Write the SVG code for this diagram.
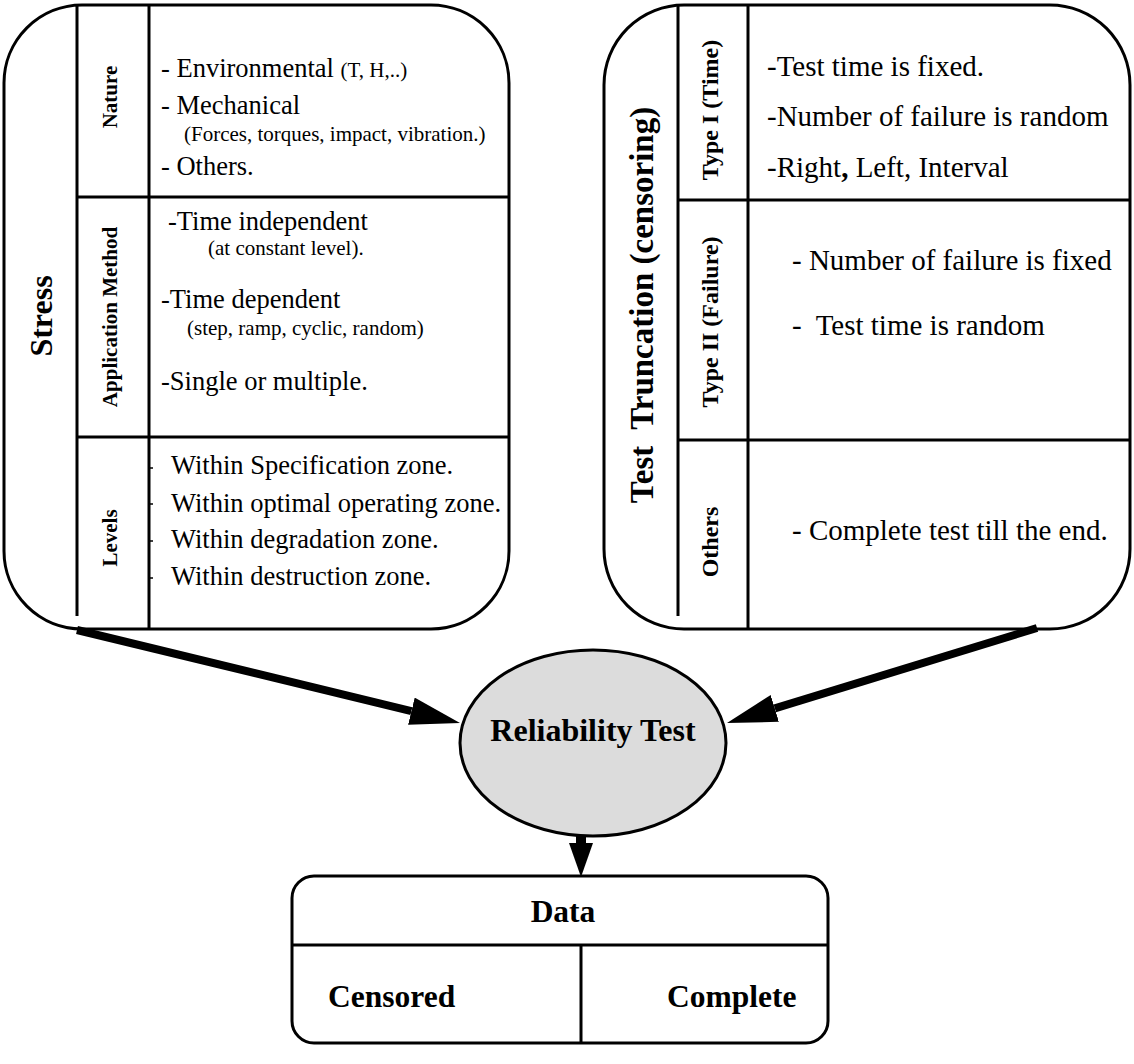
<svg xmlns="http://www.w3.org/2000/svg" width="1134" height="1064" viewBox="0 0 1134 1064">
<style>
text{font-family:"Liberation Serif","Times New Roman",serif;fill:#000;white-space:pre}
.t{font-size:26.5px}
.s{font-size:21px}
.r{font-size:29px}
.lb{font-size:21px;font-weight:bold}
.lb2{font-size:24px;font-weight:bold}
.big{font-size:32px;font-weight:bold}
.b{font-weight:bold;font-size:31.5px}
.box{fill:#fff;stroke:#000;stroke-width:3}
.ln{stroke:#000;stroke-width:3;fill:none}
.tick{stroke:#000;stroke-width:1.5}
.arr{stroke:#000;fill:none}
</style>
<defs>
<marker id="ah" viewBox="0 -14 50 28" refX="0" refY="0" markerWidth="50" markerHeight="28" markerUnits="userSpaceOnUse" orient="auto">
<path d="M0,-14 L50,0 L0,14 Z" fill="#000"/>
</marker>
<marker id="ah2" viewBox="0 -12 34 24" refX="0" refY="0" markerWidth="34" markerHeight="24" markerUnits="userSpaceOnUse" orient="auto">
<path d="M0,-12 L34,0 L0,12 Z" fill="#000"/>
</marker>
</defs>

<g id="stress">
<rect class="box" x="4" y="5" width="505" height="624" rx="78" ry="78"/>
<line class="ln" x1="77" y1="5" x2="77" y2="616"/>
<line class="ln" x1="149" y1="5" x2="149" y2="629"/>
<line class="ln" x1="77" y1="197" x2="509" y2="197"/>
<line class="ln" x1="77" y1="437" x2="509" y2="437"/>
<text class="big" text-anchor="middle" transform="translate(52,316) rotate(-90)">Stress</text>
<text class="lb" text-anchor="middle" transform="translate(117,97) rotate(-90)">Nature</text>
<text class="lb" text-anchor="middle" transform="translate(117,317) rotate(-90)">Application Method</text>
<text class="lb" text-anchor="middle" transform="translate(117,538) rotate(-90)">Levels</text>
<text class="t" x="161" y="77">- Environmental <tspan class="s">(T, H,..)</tspan></text>
<text class="t" x="161" y="114">- Mechanical</text>
<text class="s" x="184" y="141">(Forces, torques, impact, vibration.)</text>
<text class="t" x="161" y="175">- Others.</text>
<text class="t" x="168" y="230">-Time independent</text>
<text class="s" x="208" y="255">(at constant level).</text>
<text class="t" x="161" y="308">-Time dependent</text>
<text class="s" x="187" y="335">(step, ramp, cyclic, random)</text>
<text class="t" x="161" y="390">-Single or multiple.</text>
<line class="tick" x1="149" y1="468" x2="153" y2="468"/>
<line class="tick" x1="149" y1="504" x2="153" y2="504"/>
<line class="tick" x1="149" y1="541" x2="153" y2="541"/>
<line class="tick" x1="149" y1="578" x2="153" y2="578"/>
<text class="t" x="171" y="474">Within Specification zone.</text>
<text class="t" x="171" y="512">Within optimal operating zone.</text>
<text class="t" x="171" y="548">Within degradation zone.</text>
<text class="t" x="171" y="585">Within destruction zone.</text>
</g>

<g id="truncation">
<rect class="box" x="604" y="5" width="526" height="624" rx="80" ry="80"/>
<line class="ln" x1="678" y1="5" x2="678" y2="616"/>
<line class="ln" x1="748" y1="5" x2="748" y2="629"/>
<line class="ln" x1="678" y1="200" x2="1130" y2="200"/>
<line class="ln" x1="678" y1="440" x2="1130" y2="440"/>
<text class="big" text-anchor="middle" transform="translate(653,305) rotate(-90)" style="font-size:33px">Test  Truncation (censoring)</text>
<text class="lb2" text-anchor="middle" transform="translate(718,110) rotate(-90)">Type I (Time)</text>
<text class="lb2" text-anchor="middle" transform="translate(718,322) rotate(-90)">Type II (Failure)</text>
<text class="lb2" text-anchor="middle" transform="translate(718,542) rotate(-90)">Others</text>
<text class="r" x="767" y="76">-Test time is fixed.</text>
<text class="r" x="767" y="126">-Number of failure is random</text>
<text class="r" x="767" y="177">-Right<tspan font-weight="bold">,</tspan> Left, Interval</text>
<text class="r" x="792" y="270">- Number of failure is fixed</text>
<text class="r" x="792" y="335">-  Test time is random</text>
<text class="r" x="792" y="540">- Complete test till the end.</text>
</g>

<g id="reliability">
<ellipse cx="593" cy="743" rx="133" ry="93" fill="#dcdcdc" stroke="#000" stroke-width="3"/>
<text class="big" text-anchor="middle" x="593" y="741">Reliability Test</text>
</g>

<g id="data">
<rect class="box" x="292" y="876" width="536" height="167" rx="22" ry="22"/>
<line class="ln" x1="292" y1="945" x2="828" y2="945"/>
<line class="ln" x1="581" y1="945" x2="581" y2="1043"/>
<text class="b" text-anchor="middle" x="563" y="922">Data</text>
<text class="b" x="328" y="1007">Censored</text>
<text class="b" x="667" y="1007">Complete</text>
</g>

<g id="connectors">
<line class="arr" stroke-width="8" x1="77" y1="630" x2="411.4" y2="711.2" marker-end="url(#ah)"/>
<line class="arr" stroke-width="8" x1="1037" y1="628" x2="774.8" y2="708.4" marker-end="url(#ah)"/>
<line class="arr" stroke-width="10" x1="581" y1="836" x2="581" y2="843" marker-end="url(#ah2)"/>
</g>
</svg>
